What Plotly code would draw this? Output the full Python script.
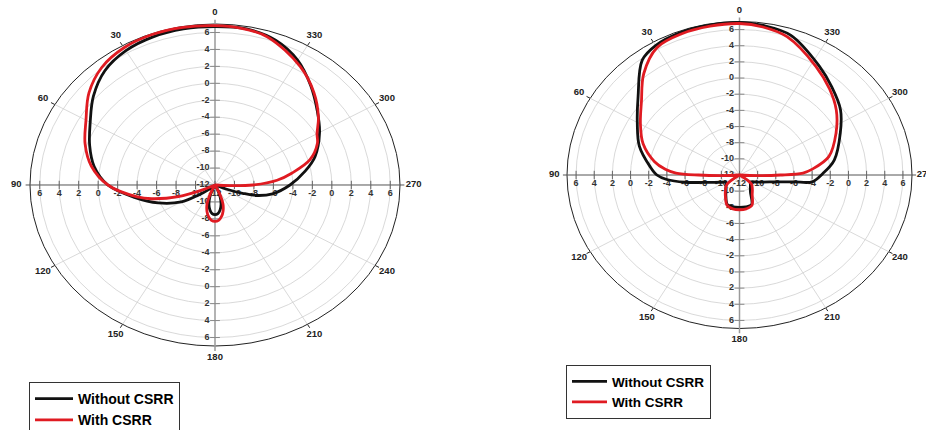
import numpy as np
import plotly.graph_objects as go

# ---------------- data (gain in dB vs angle in degrees) ----------------
LEFT_WITHOUT_ANGLE = [0, 10, 20, 30, 40, 50, 60, 70, 80, 90, 100, 110, 120, 125, 130, 135,
                      150, 155, 160, 165, 170, 175, 180, 185, 190, 195, 200, 205, 210,
                      240, 248, 251, 254, 260, 270, 280, 288, 300, 310, 320, 330, 340, 350, 360]
LEFT_WITHOUT_DB = [6.7, 6.7, 6.6, 6.3, 5.6, 4.3, 2.8, 1.7, 0.6, -1.0, -3.6, -5.8, -8.0, -9.9, -11.2, -12,
                   -12, -11.3, -10.4, -9.6, -9.0, -8.6, -8.5, -8.6, -9.0, -9.6, -10.4, -11.3, -12,
                   -12, -10.5, -9.0, -7.5, -6.0, -4.3, -2.6, -1.2, 0.4, 1.7, 3.3, 5.0, 6.2, 6.7, 6.7]

LEFT_WITH_ANGLE = [0, 10, 20, 30, 40, 50, 60, 70, 80, 90, 100, 104, 110, 114, 118,
                   150, 155, 160, 165, 170, 175, 180, 185, 190, 195, 200, 205, 210,
                   264, 267, 270, 275, 280, 287, 295, 300, 307, 317, 328, 343, 352, 360]
LEFT_WITH_DB = [6.8, 6.9, 6.9, 6.7, 6.1, 4.9, 3.3, 2.2, 0.9, -1.0, -3.9, -5.3, -8.0, -10.6, -12,
                -12, -11.0, -9.6, -8.8, -8.2, -7.8, -7.7, -7.8, -8.2, -8.8, -9.6, -11.0, -12,
                -12, -10.5, -8.1, -5.6, -4.0, -1.8, -0.4, 0.1, 1.3, 2.9, 4.5, 6.3, 6.7, 6.8]

RIGHT_WITHOUT_ANGLE = [0, 10, 20, 30, 37, 49, 60, 72, 84, 90, 94, 98.5, 103, 114, 121, 135, 150,
                       160, 170, 180, 190, 200, 210, 225, 234, 246.5, 258, 262, 264, 271, 280,
                       295, 306, 317, 327, 342, 352, 360]
RIGHT_WITHOUT_DB = [6.9, 6.85, 6.8, 6.5, 5.8, 2.8, 1.0, -0.4, -2.1, -2.9, -3.97, -5.93, -7.9, -9.8,
                    -10.25, -9.88, -9.0, -8.1, -8.0, -8.0, -8.0, -8.1, -9.6, -10.3, -10.5, -9.8,
                    -7.9, -5.94, -3.95, -2.84, -1.4, 0.25, 1.75, 2.9, 4.1, 6.2, 6.7, 6.9]

RIGHT_WITH_ANGLE = [0, 10, 20, 30, 40, 50, 60, 70, 80, 85, 88, 90, 92, 95, 120, 130, 140, 150, 160,
                    170, 180, 190, 200, 210, 220, 230, 240, 265, 268, 270, 272, 275, 283, 296,
                    307, 317, 328, 343, 352, 360]
RIGHT_WITH_DB = [6.75, 6.7, 6.6, 6.2, 4.4, 2.1, 0.6, -0.7, -2.5, -3.8, -5.0, -7.5, -10, -12, -12,
                 -10.2, -9.6, -8.9, -8.0, -7.75, -7.7, -7.75, -8.0, -9.2, -9.8, -10.3, -12, -12,
                 -10, -7.5, -5.0, -4.0, -1.9, -0.17, 1.35, 2.55, 3.87, 5.9, 6.5, 6.75]

SERIES_NAMES = ["Without CSRR", "With CSRR"]
RADIAL_TICKS = [-12, -10, -8, -6, -4, -2, 0, 2, 4, 6]
ANGULAR_TICKS = [0, 30, 60, 90, 120, 150, 180, 210, 240, 270, 300, 330]
ANGULAR_LABELS = ["0", "30", "60", "90", "120", "150", "180", "210", "240", "270", "300", "330"]
R_MIN, R_MAX = -12, 7

# ---------------- layout constants ----------------
W, H = 926, 430
LABEL_R = 20.4  # radius (in dB units from the centre) of the angle labels
PANELS = [
    dict(xa="x", ya="y", cx=215.0, cy=185.0, sx=185.0 / 19, sy=161.0 / 19, legend="legend",
         xr=(-21.5, 21.5), yr=(-21.5, 21.5)),
    dict(xa="x2", ya="y2", cx=739.5, cy=175.0, sx=172.5 / 19, sy=153.5 / 19, legend="legend2",
         xr=(-21.5, 20.5), yr=(-21.5, 21.5)),
]
COLORS = ["#111111", "#e01b22"]
GRID = "#cfcfcf"
FONT = "Liberation Sans"


def to_xy(theta_deg, gain):
    t = np.radians(np.asarray(theta_deg, dtype=float))
    ru = np.clip(np.asarray(gain, dtype=float) - R_MIN, 0, None)
    return -ru * np.sin(t), ru * np.cos(t)


fig = go.Figure()
shapes = []

data_sets = [
    [(LEFT_WITHOUT_ANGLE, LEFT_WITHOUT_DB), (LEFT_WITH_ANGLE, LEFT_WITH_DB)],
    [(RIGHT_WITHOUT_ANGLE, RIGHT_WITHOUT_DB), (RIGHT_WITH_ANGLE, RIGHT_WITH_DB)],
]

outer = R_MAX - R_MIN
lbl_font = dict(family=FONT, size=9, color="#333333", weight="bold")

for p, sets in zip(PANELS, data_sets):
    xr, yr = p["xa"], p["ya"]
    for g in RADIAL_TICKS[1:]:
        ru = g - R_MIN
        shapes.append(dict(type="circle", xref=xr, yref=yr, x0=-ru, x1=ru, y0=-ru, y1=ru,
                           line=dict(color=GRID, width=0.8), layer="below"))
    shapes.append(dict(type="circle", xref=xr, yref=yr, x0=-outer, x1=outer, y0=-outer, y1=outer,
                       line=dict(color="#222222", width=1), layer="below"))
    for a in ANGULAR_TICKS:
        if a % 90 == 0:
            continue
        ex, ey = to_xy(a, R_MAX)
        shapes.append(dict(type="line", xref=xr, yref=yr, x0=0, y0=0, x1=float(ex), y1=float(ey),
                           line=dict(color=GRID, width=0.8), layer="below"))
        tx, ty = to_xy(a, R_MAX + 0.45)
        shapes.append(dict(type="line", xref=xr, yref=yr, x0=float(ex), y0=float(ey),
                           x1=float(tx), y1=float(ty), line=dict(color="#222222", width=1),
                           layer="below"))
    shapes.append(dict(type="line", xref=xr, yref=yr, x0=0, x1=0, y0=-(outer + 0.6), y1=outer + 0.5,
                       line=dict(color="#9a9a9a", width=1.5), layer="below"))
    shapes.append(dict(type="line", xref=xr, yref=yr, x0=-(outer + 0.45), x1=outer + 0.45, y0=0, y1=0,
                       line=dict(color="#555555", width=1), layer="below"))

    rest = RADIAL_TICKS[1:]
    vx, vy, vtxt = [], [], []
    for g in RADIAL_TICKS:
        x, y = to_xy(0, g)
        vx.append(float(x)); vy.append(float(y)); vtxt.append(str(g))
    for g in rest:
        x, y = to_xy(180, g)
        vx.append(float(x)); vy.append(float(y)); vtxt.append(str(g))
    fig.add_trace(go.Scatter(x=vx, y=vy, text=vtxt, mode="markers+text", textposition="middle left",
                             marker=dict(symbol="line-ew", size=7, line=dict(color="#888888", width=1)),
                             textfont=lbl_font, xaxis=xr, yaxis=yr, showlegend=False,
                             hoverinfo="skip", cliponaxis=False))
    hx, hy, htxt = [], [], []
    for g in rest:
        x, y = to_xy(90, g)
        hx.append(float(x)); hy.append(float(y)); htxt.append(str(g))
    x, y = to_xy(90, R_MIN)
    hx.append(float(x)); hy.append(float(y)); htxt.append(str(R_MIN))
    for g in rest:
        x, y = to_xy(270, g)
        hx.append(float(x)); hy.append(float(y)); htxt.append(str(g))
    fig.add_trace(go.Scatter(x=hx, y=hy, text=htxt, mode="markers+text", textposition="bottom center",
                             marker=dict(symbol="line-ns", size=6, line=dict(color="#666666", width=1)),
                             textfont=lbl_font, xaxis=xr, yaxis=yr, showlegend=False,
                             hoverinfo="skip", cliponaxis=False))
    ax_, ay_ = to_xy(ANGULAR_TICKS, R_MIN + LABEL_R)
    fig.add_trace(go.Scatter(x=ax_, y=ay_, text=ANGULAR_LABELS, mode="text", textposition="middle center",
                             textfont=dict(family=FONT, size=9.5, color="#222222", weight="bold"),
                             xaxis=xr, yaxis=yr, showlegend=False, hoverinfo="skip", cliponaxis=False))

    for (ang, db), name, col in zip(sets, SERIES_NAMES, COLORS):
        x, y = to_xy(ang, db)
        fig.add_trace(go.Scatter(x=x, y=y, mode="lines", name=name,
                                 line=dict(color=col, width=2.8, shape="spline", smoothing=1.0),
                                 xaxis=xr, yaxis=yr, legend=p["legend"], cliponaxis=False,
                                 customdata=np.stack([ang, db], axis=1),
                                 hovertemplate="%{customdata[0]}°: %{customdata[1]} dB<extra>" + name + "</extra>"))

layout_axes = {}
for i, p in enumerate(PANELS):
    sfx = "" if i == 0 else str(i + 1)
    x0 = (p["cx"] + p["xr"][0] * p["sx"]) / W
    x1 = (p["cx"] + p["xr"][1] * p["sx"]) / W
    y0 = 1 - (p["cy"] - p["yr"][0] * p["sy"]) / H
    y1 = 1 - (p["cy"] - p["yr"][1] * p["sy"]) / H
    layout_axes["xaxis" + sfx] = dict(domain=[x0, x1], range=list(p["xr"]), visible=False,
                                      fixedrange=True, anchor="y" + sfx)
    layout_axes["yaxis" + sfx] = dict(domain=[y0, y1], range=list(p["yr"]), visible=False,
                                      fixedrange=True, anchor="x" + sfx)

legend_common = dict(bgcolor="white", bordercolor="#333333", borderwidth=1,
                     xanchor="left", yanchor="top", tracegroupgap=0)
fig.update_layout(
    width=W, height=H, margin=dict(l=0, r=0, t=0, b=0, autoexpand=False),
    paper_bgcolor="white", plot_bgcolor="rgba(0,0,0,0)",
    shapes=shapes, showlegend=True,
    legend=dict(x=29 / W, y=1 - 382 / H, itemwidth=38,
                font=dict(family=FONT, size=14, color="black", weight="bold"), **legend_common),
    legend2=dict(x=566 / W, y=1 - 365 / H, itemwidth=35,
                 font=dict(family=FONT, size=13.5, color="black", weight="bold"), **legend_common),
    **layout_axes,
)

fig.write_html("out.html", config={"displayModeBar": False},
               post_script="document.body.style.margin='0px';")
